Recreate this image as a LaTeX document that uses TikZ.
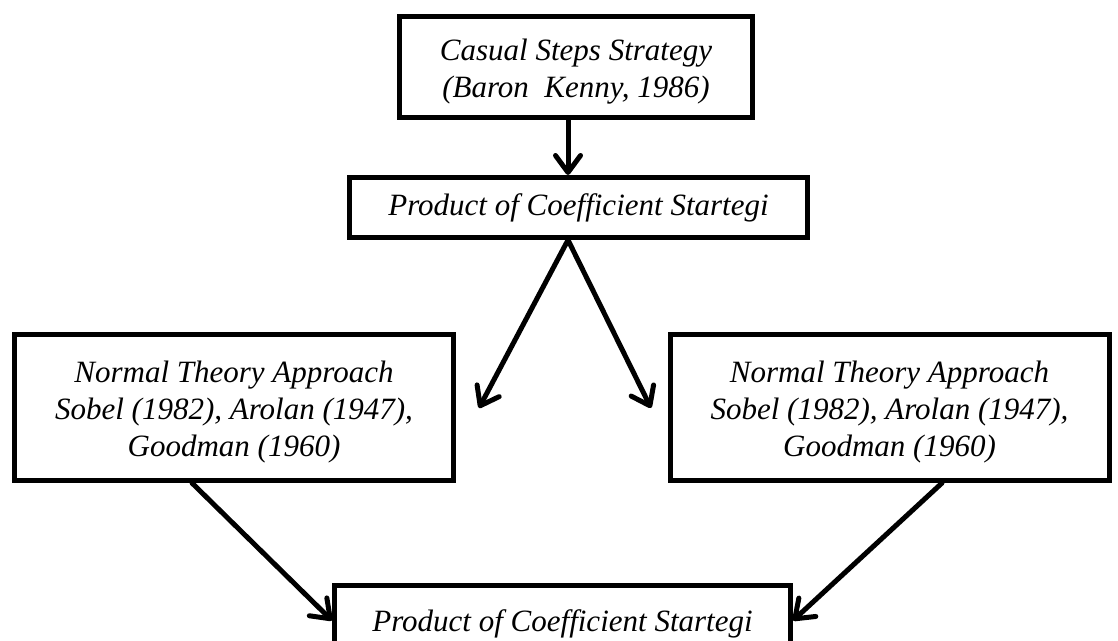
\documentclass[tikz,border=0pt]{standalone}
\usepackage{fontspec}
\setmainfont{Liberation Serif}
\usetikzlibrary{arrows.meta}
\tikzset{
  boxnode/.style={draw=black, line width=2.5pt, fill=white, inner sep=0pt, align=center,
    font=\itshape\fontsize{15.5}{18.5}\selectfont},
  arr/.style={line width=2.5pt, -{Straight Barb[length=8.5pt,width=12.5pt,round]}, line cap=round}
}
\newcommand{\lowstrut}{\rule{0pt}{15.5pt}}
\begin{document}
\begin{tikzpicture}[x=0.5pt,y=-0.5pt]
\clip (0,0) rectangle (1118,641);
\fill[white] (0,0) rectangle (1118,641);

\node[boxnode, minimum width=176.5pt, minimum height=50.5pt] (top) at (576,67)
  {\lowstrut Casual Steps Strategy\\(Baron~~Kenny, 1986)};
\node[boxnode, minimum width=229pt, minimum height=30pt] (mid) at (578.5,207.5)
  {Product of Coefficient Startegi};
\node[boxnode, minimum width=219.5pt, minimum height=73pt] (left) at (234,407.5)
  {\lowstrut Normal Theory Approach\\Sobel (1982), Arolan (1947),\\Goodman (1960)};
\node[boxnode, minimum width=219.5pt, minimum height=73pt] (right) at (889.5,407.5)
  {\lowstrut Normal Theory Approach\\Sobel (1982), Arolan (1947),\\Goodman (1960)};
\node[boxnode, minimum width=228pt, minimum height=35pt, text depth=0pt] (bottom) at (562.5,620.5)
  {Product of Coefficient Startegi};

\coordinate (lt) at (479,408);
\coordinate (rt) at (651,408);

\draw[arr] ([xshift=-4pt]top.south) -- ([xshift=-5.25pt]mid.north);
\draw[arr] ([xshift=-5.25pt]mid.south) -- (lt);
\draw[arr] ([xshift=-5.25pt]mid.south) -- (rt);
\draw[arr] ([xshift=-21pt]left.south) -- (bottom.west);
\draw[arr] ([xshift=26.25pt]right.south) -- (bottom.east);
\end{tikzpicture}
\end{document}
